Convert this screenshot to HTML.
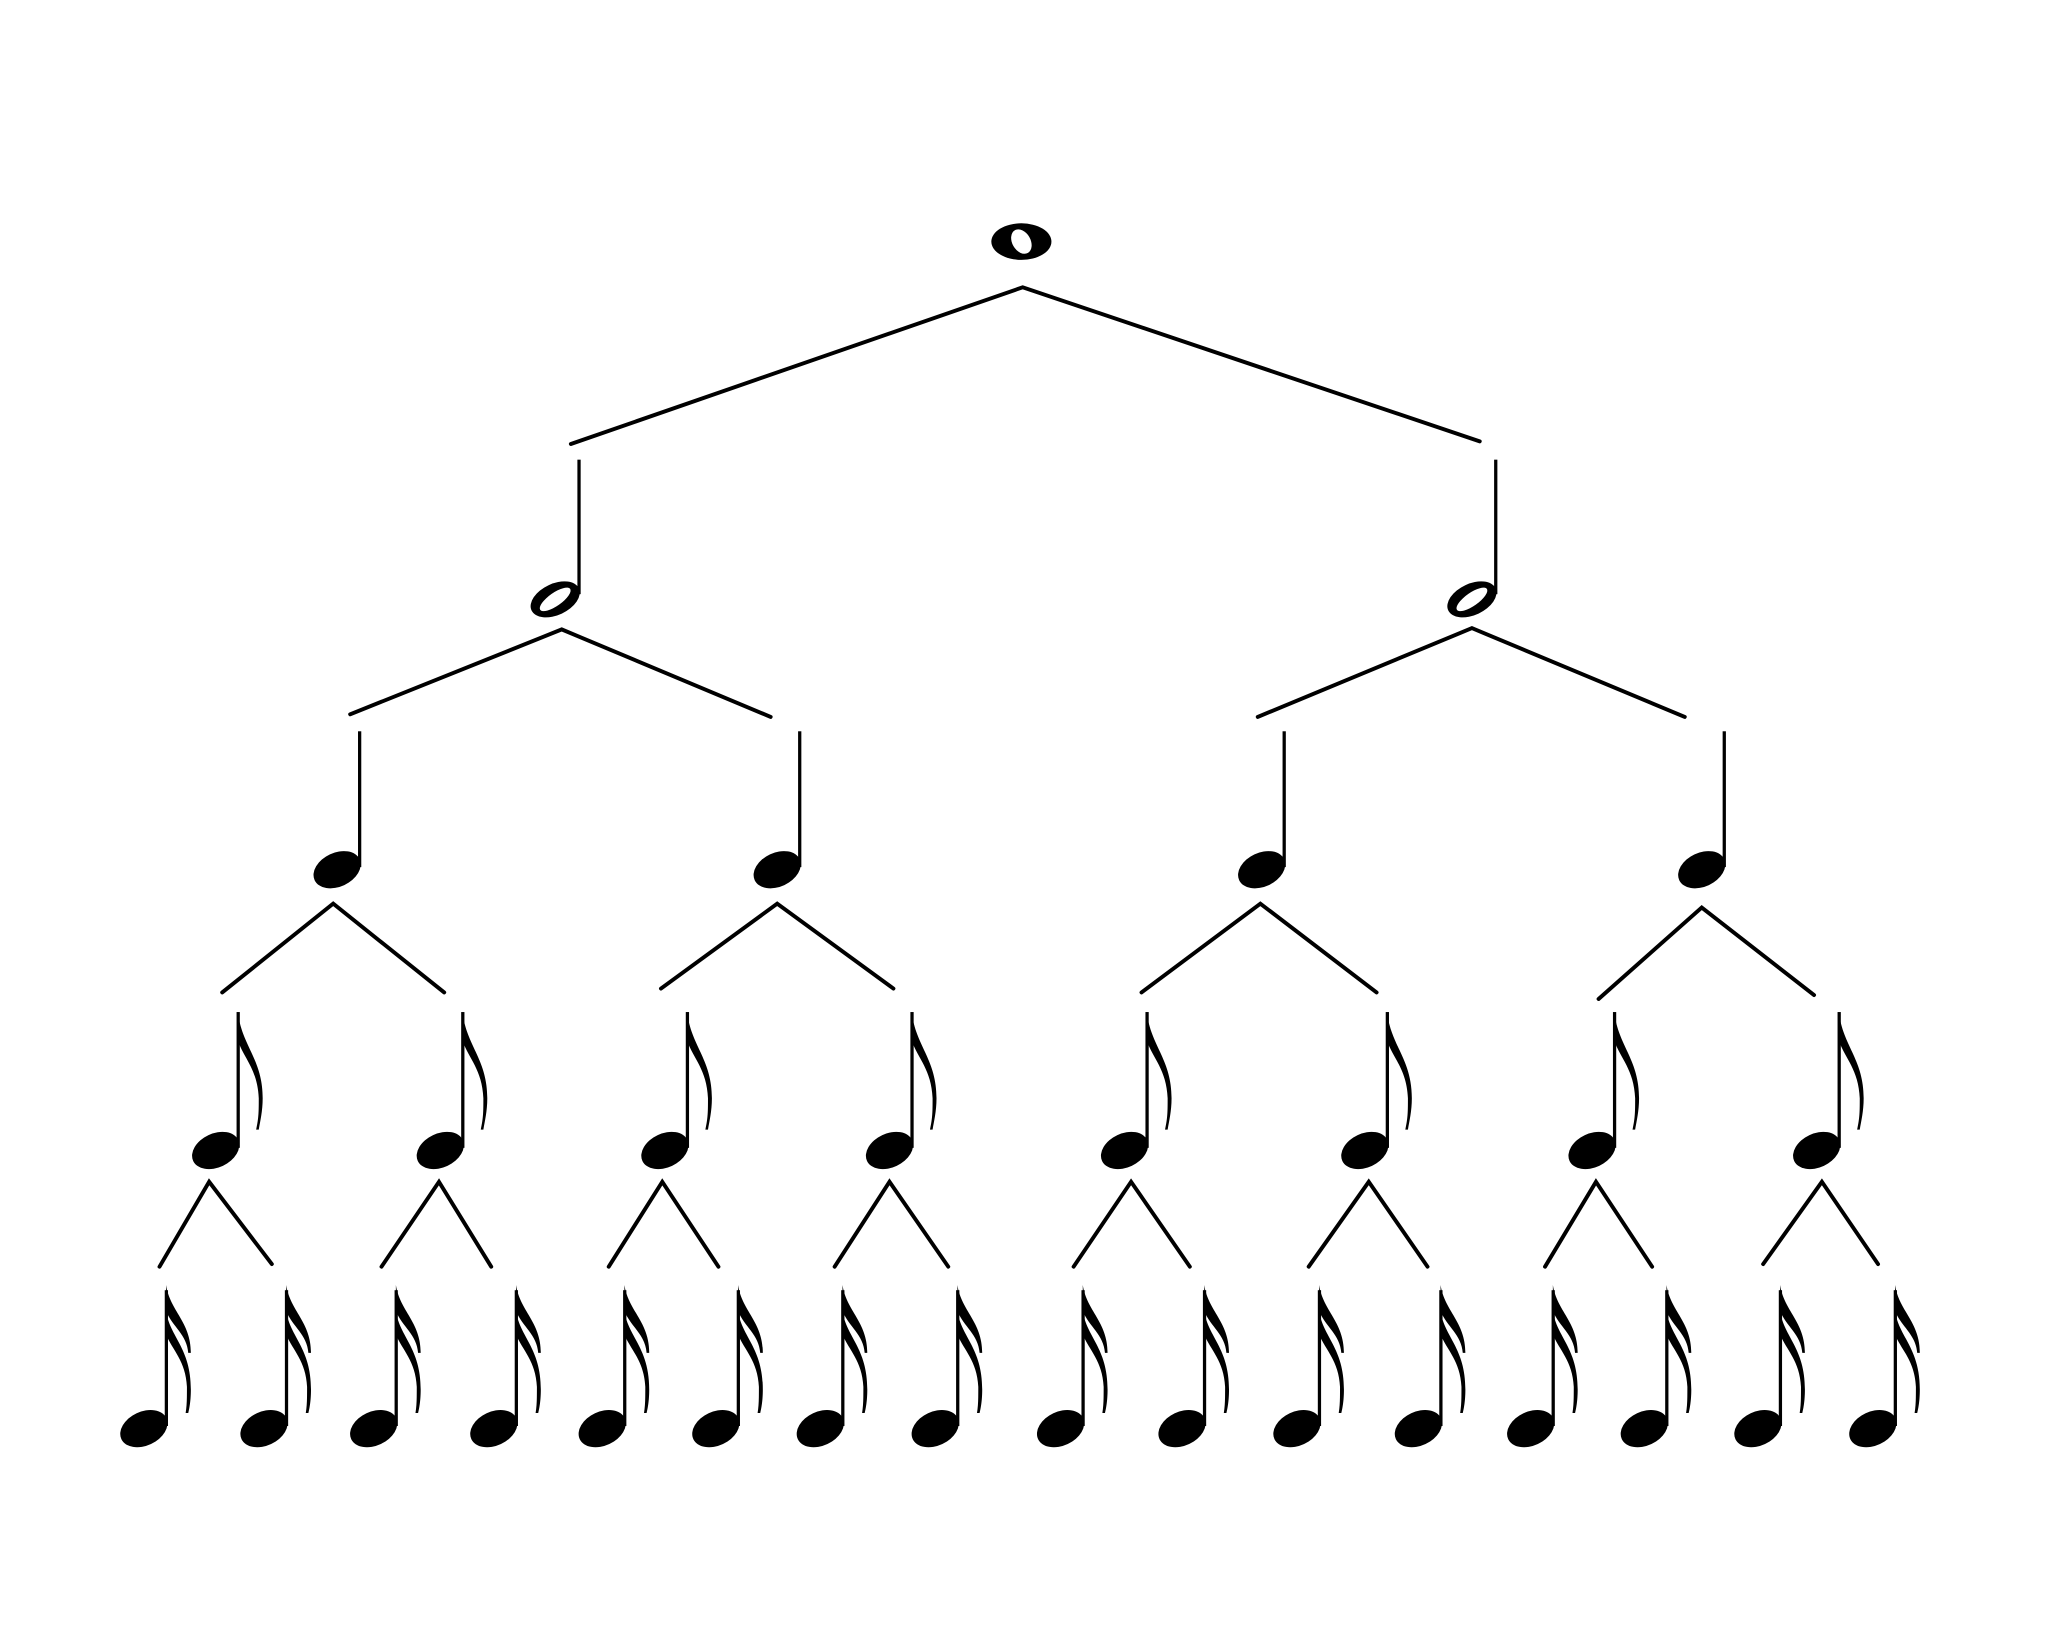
<!DOCTYPE html>
<html><head><style>html,body{margin:0;padding:0;background:#fff}svg{display:block}</style></head>
<body>
<svg width="2048" height="1648" viewBox="0 0 1568 1262" xmlns="http://www.w3.org/2000/svg">
<defs>
<g id="head"><ellipse cx="0" cy="0" rx="19" ry="13" transform="rotate(-25)" fill="#000"/></g>
<g id="q"><use href="#head"/><rect x="16" y="-106" width="2.5" height="104" fill="#000"/></g>
<g id="e"><use href="#q"/><path d="M17,-106 C20,-80 36,-70 36,-40 C36,-30 34,-22 33,-16 L31,-16 C33,-25 33,-30 33,-40 C32,-62 22,-70 17,-84 Z" fill="#000"/></g>
<g id="s"><use href="#q"/>
<path d="M17,-110 C20,-90 36,-82 36,-58 L34,-58 C33,-72 22,-78 17,-90 Z" fill="#000"/>
<path d="M17,-90 C20,-70 36,-62 36,-30 C36,-22 35,-16 34,-12 L32,-12 C33,-18 33,-24 33,-32 C32,-52 22,-60 17,-72 Z" fill="#000"/></g>
</defs>
<g stroke="#000" stroke-width="3" fill="none" stroke-linecap="round">
<!-- level 1 -->
<path d="M437,340 L783,220 L1133,338"/>
<path d="M268,547 L430,482 L590,549"/>
<path d="M963,549 L1127,481 L1290,549"/>
<path d="M170,760 L255,692 L340,760"/>
<path d="M506,757 L595,692 L684,757"/>
<path d="M874,760 L965,692 L1054,760"/>
<path d="M1224,765 L1303,695 L1389,762"/>
<path d="M122,970 L160,905 L208,968"/>
<path d="M292,970 L336,905 L376,970"/>
<path d="M466,970 L507,905 L550,970"/>
<path d="M639,970 L681,905 L726,970"/>
<path d="M822,970 L866,905 L911,970"/>
<path d="M1002,970 L1048,905 L1093,970"/>
<path d="M1183,970 L1222,905 L1265,970"/>
<path d="M1350,968 L1395,905 L1438,968"/>
</g>
<!-- whole note -->
<ellipse cx="782" cy="185" rx="23" ry="14" fill="#000"/>
<ellipse cx="782" cy="185" rx="7" ry="10" transform="rotate(-30 782 185)" fill="#fff"/>
<!-- half notes -->
<g fill="#000">
<ellipse cx="425" cy="459" rx="20" ry="12" transform="rotate(-25 425 459)"/>
<ellipse cx="425" cy="459" rx="14" ry="5" transform="rotate(-35 425 459)" fill="#fff"/>
<rect x="442" y="352" width="2.5" height="103"/>
<ellipse cx="1127" cy="459" rx="20" ry="12" transform="rotate(-25 1127 459)"/>
<ellipse cx="1127" cy="459" rx="14" ry="5" transform="rotate(-35 1127 459)" fill="#fff"/>
<rect x="1144" y="352" width="2.5" height="103"/>
</g>
<use href="#q" x="258" y="666"/><use href="#q" x="595" y="666"/>
<use href="#q" x="966" y="666"/><use href="#q" x="1303" y="666"/>
<use href="#e" x="165" y="881"/><use href="#e" x="337" y="881"/>
<use href="#e" x="509" y="881"/><use href="#e" x="681" y="881"/>
<use href="#e" x="861" y="881"/><use href="#e" x="1045" y="881"/>
<use href="#e" x="1219" y="881"/><use href="#e" x="1391" y="881"/>
<use href="#s" x="110" y="1094"/><use href="#s" x="202" y="1094"/>
<use href="#s" x="286" y="1094"/><use href="#s" x="378" y="1094"/>
<use href="#s" x="461" y="1094"/><use href="#s" x="548" y="1094"/>
<use href="#s" x="628" y="1094"/><use href="#s" x="716" y="1094"/>
<use href="#s" x="812" y="1094"/><use href="#s" x="905" y="1094"/>
<use href="#s" x="993" y="1094"/><use href="#s" x="1086" y="1094"/>
<use href="#s" x="1172" y="1094"/><use href="#s" x="1259" y="1094"/>
<use href="#s" x="1346" y="1094"/><use href="#s" x="1434" y="1094"/>
</svg>
</body></html>
